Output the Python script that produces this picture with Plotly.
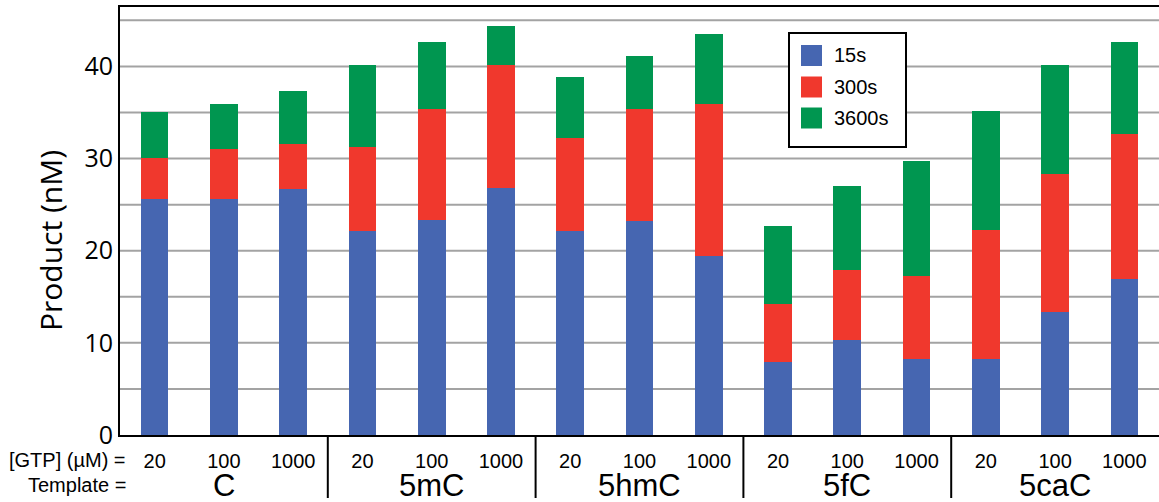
import plotly.graph_objects as go

# ---- data ----
templates = ["C", "5mC", "5hmC", "5fC", "5caC"]
gtp_levels = ["20", "100", "1000"]
series_names = ["15s", "300s", "3600s"]
series_colors = ["#4666B1", "#F0382D", "#009650"]

# stacked increments (nM) for each template x GTP combination
v_15s = [25.6, 25.6, 26.7, 22.1, 23.3, 26.8, 22.1, 23.2, 19.4, 7.9, 10.3, 8.3, 8.2, 13.3, 16.9]
v_300s = [4.5, 5.4, 4.9, 9.2, 12.1, 13.4, 10.1, 12.2, 16.5, 6.3, 7.6, 9.0, 14.1, 15.0, 15.8]
v_3600s = [5.0, 4.9, 5.7, 8.9, 7.2, 4.2, 6.7, 5.7, 7.6, 8.5, 9.1, 12.4, 12.9, 11.9, 10.0]
series_values = [v_15s, v_300s, v_3600s]

# ---- layout geometry ----
W, H = 1159, 502
ML, MR, MT, MB = 120, 0, 7, 67
PW, PH = W - ML - MR, H - MT - MB


def px_x(px):
    return (px - ML) / PW


def px_y(py):
    return (H - MB - py) / PH


n_g = len(gtp_levels)
xpos = list(range(len(templates) * n_g))
ticktext = [g for _ in templates for g in gtp_levels]

fig = go.Figure()
for name, vals, col in zip(series_names, series_values, series_colors):
    fig.add_trace(go.Bar(x=xpos, y=vals, name=name, marker_color=col,
                         marker_line_width=0, width=0.4, showlegend=False))

fig.update_layout(
    barmode="stack",
    width=W, height=H,
    margin=dict(l=ML, r=MR, t=MT, b=MB, pad=0),
    plot_bgcolor="white", paper_bgcolor="white",
    font=dict(family="Liberation Sans, Arial, sans-serif", color="black"),
)
fig.update_xaxes(
    range=[-0.5, len(xpos) - 0.5],
    tickmode="array", tickvals=xpos, ticktext=ticktext,
    tickfont=dict(size=20, family="Liberation Sans, Arial, sans-serif"),
    ticks="outside", ticklen=7, tickcolor="rgba(0,0,0,0)",
    showgrid=False, zeroline=False,
    showline=True, linecolor="black", linewidth=2, mirror=True,
)
fig.update_yaxes(
    range=[0, 46.45],
    tickmode="array", tickvals=[0, 10, 20, 30, 40],
    tickfont=dict(size=25, family="Open Sans, sans-serif"),
    ticks="", showgrid=False, zeroline=False,
    showline=True, linecolor="black", linewidth=2, mirror=False,
)

shapes = []
# gridlines every 5
for gv in range(5, 50, 5):
    shapes.append(dict(type="line", xref="paper", yref="y", x0=0, x1=1, y0=gv, y1=gv,
                       line=dict(color="#A3A3A3", width=2), layer="below"))
# group separators below axis
for k in range(1, len(templates)):
    xs = k * n_g - 0.5
    shapes.append(dict(type="line", xref="x", yref="paper", x0=xs, x1=xs,
                       y0=0, y1=px_y(498), line=dict(color="black", width=2)))
# custom legend box
shapes.append(dict(type="rect", xref="paper", yref="paper",
                   x0=px_x(789), x1=px_x(906), y0=px_y(33), y1=px_y(147),
                   line=dict(color="black", width=2), fillcolor="white"))
annotations = []
leg_centers = [55.5, 87, 118]
for name, col, cy in zip(series_names, series_colors, leg_centers):
    shapes.append(dict(type="rect", xref="paper", yref="paper",
                       x0=px_x(801), x1=px_x(822), y0=px_y(cy + 10.5), y1=px_y(cy - 10.5),
                       line=dict(width=0), fillcolor=col))
    annotations.append(dict(text=name, xref="paper", yref="paper", x=px_x(832), y=px_y(cy),
                            xanchor="left", yanchor="middle", showarrow=False,
                            font=dict(size=20)))

# y-axis title
annotations.append(dict(text="Product (nM)", xref="paper", yref="paper", x=px_x(50), y=px_y(241),
                        xanchor="center", yanchor="middle", textangle=-90, showarrow=False,
                        font=dict(size=30, family="Open Sans, sans-serif")))
# row labels
annotations.append(dict(text="[GTP] (µM) =", xref="paper", yref="paper", x=px_x(128), y=px_y(460),
                        xanchor="right", yanchor="middle", showarrow=False, font=dict(size=20)))
annotations.append(dict(text="Template =", xref="paper", yref="paper", x=px_x(128), y=px_y(485),
                        xanchor="right", yanchor="middle", showarrow=False, font=dict(size=20)))
# template names
for k, t in enumerate(templates):
    annotations.append(dict(text=t, xref="x", yref="paper", x=k * n_g + 1, y=px_y(485),
                            xanchor="center", yanchor="middle", showarrow=False,
                            font=dict(size=31)))

fig.update_layout(shapes=shapes, annotations=annotations)
fig.write_html("out.html")
